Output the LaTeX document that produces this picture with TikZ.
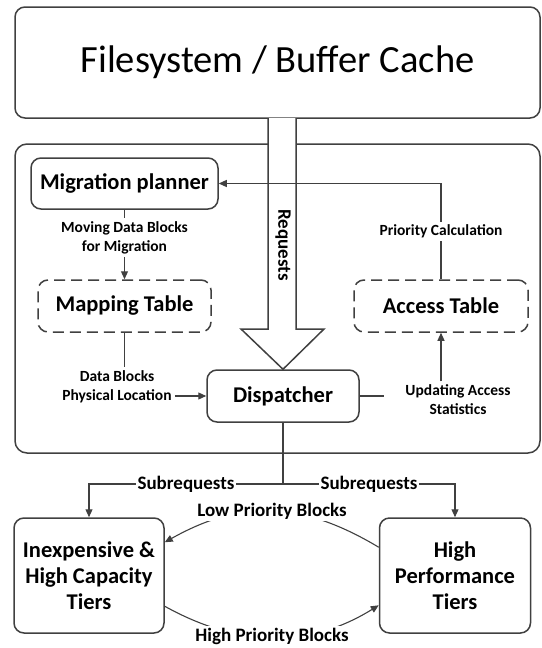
\documentclass[tikz,border=0pt]{standalone}
\usepackage{fontspec}
\setmainfont{Carlito}
\usetikzlibrary{arrows.meta,calc}
\definecolor{lc}{RGB}{64,64,64}
\begin{document}
\begin{tikzpicture}[x=1pt,y=-1pt,
  box/.style={draw=lc, line width=1.5pt, rounded corners=10pt, align=center, inner sep=0pt,
    font=\bfseries\fontsize{22.5}{26}\selectfont},
  dbox/.style={box, dash pattern=on 11pt off 6pt},
  lbl/.style={font=\bfseries\fontsize{15.5}{19}\selectfont, align=center, fill=white, inner sep=3pt},
  blbl/.style={font=\bfseries\fontsize{19}{22}\selectfont, align=center, fill=white, inner sep=1.5pt},
  conn/.style={draw=lc, line width=1.1pt},
  arr/.style={conn, -{Triangle[length=8pt,width=7pt]}}]
\useasboundingbox (0,0) rectangle (541,648);

% top and outer boxes
\node[box, minimum width=525pt, minimum height=111pt, font=\fontsize{38.5}{44}\selectfont] (fs) at (277.5,62.5) {Filesystem / Buffer Cache};
\node[box, minimum width=525pt, minimum height=309pt, rounded corners=12pt] (outer) at (277.5,298.5) {};

% inner nodes
\node[box, minimum width=187pt, minimum height=51pt] (mig) at (124.5,183.5) {Migration planner};
\node[dbox, minimum width=173pt, minimum height=52pt] (map) at (124.5,306) {Mapping Table};
\node[dbox, minimum width=174pt, minimum height=52pt] (acc) at (441,306) {Access Table};
\node[box, minimum width=152pt, minimum height=52pt] (disp) at (283,396) {Dispatcher};

% tiers
\node[box, minimum width=150pt, minimum height=115pt] (lt) at (89,575.5) {Inexpensive \&\\High Capacity\\Tiers};
\node[box, minimum width=151pt, minimum height=115pt] (rt) at (455,575.5) {High\\Performance\\Tiers};

% requests arrow
\draw[draw=lc, line width=1.5pt, fill=white, line join=miter]
  (268,118) -- (268,329) -- (241,329) -- (disp.north) -- (324,329) -- (296,329) -- (296,118);
\node[font=\bfseries\fontsize{19}{22}\selectfont, rotate=-90] (req) at (283,245) {Requests};

% priority calculation
\draw[arr] (acc.north) |- (mig.east) node[lbl, pos=0.25] (lprio) {Priority Calculation};

% moving data blocks
\node[lbl] (lmove) at (124.5,237.5) {Moving Data Blocks\\for Migration};
\draw[conn] (mig.south) -- (lmove.north);
\draw[arr] (lmove.south) -- (map.north);

% data blocks physical location
\node[lbl] (ldata) at (117,386.5) {Data Blocks\\Physical Location};
\draw[conn] (map.south) -- (map.south |- ldata.north);
\draw[arr] (ldata.east |- disp.west) -- (disp.west);

% updating access statistics
\node[lbl] (lupd) at (458,399.5) {Updating Access\\Statistics};
\coordinate (updEnd) at (384,396);
\draw[conn] (disp.east) -- (updEnd);
\draw[arr] (acc.south |- lupd.north) -- (acc.south);

% subrequests
\coordinate (split) at (283,484);
\draw[conn] (disp.south) -- (split);
\draw[arr] (split) -| (lt.north) node[blbl, pos=0.25] (lsub1) {Subrequests};
\draw[arr] (split) -| (rt.north) node[blbl, pos=0.25] (lsub2) {Subrequests};

% priority block migration curves
\draw[arr] ($(rt.north west)+(0,30)$) .. controls (300,500) and (240,500) .. ($(lt.north east)+(0,25)$);
\node[blbl] (llow) at (272,511) {Low Priority Blocks};
\draw[arr] ($(lt.north east)+(0,89)$) .. controls (240,648) and (310,648) .. ($(rt.north west)+(0,88)$);
\node[blbl] (lhigh) at (272,636) {High Priority Blocks};
\end{tikzpicture}
\end{document}
